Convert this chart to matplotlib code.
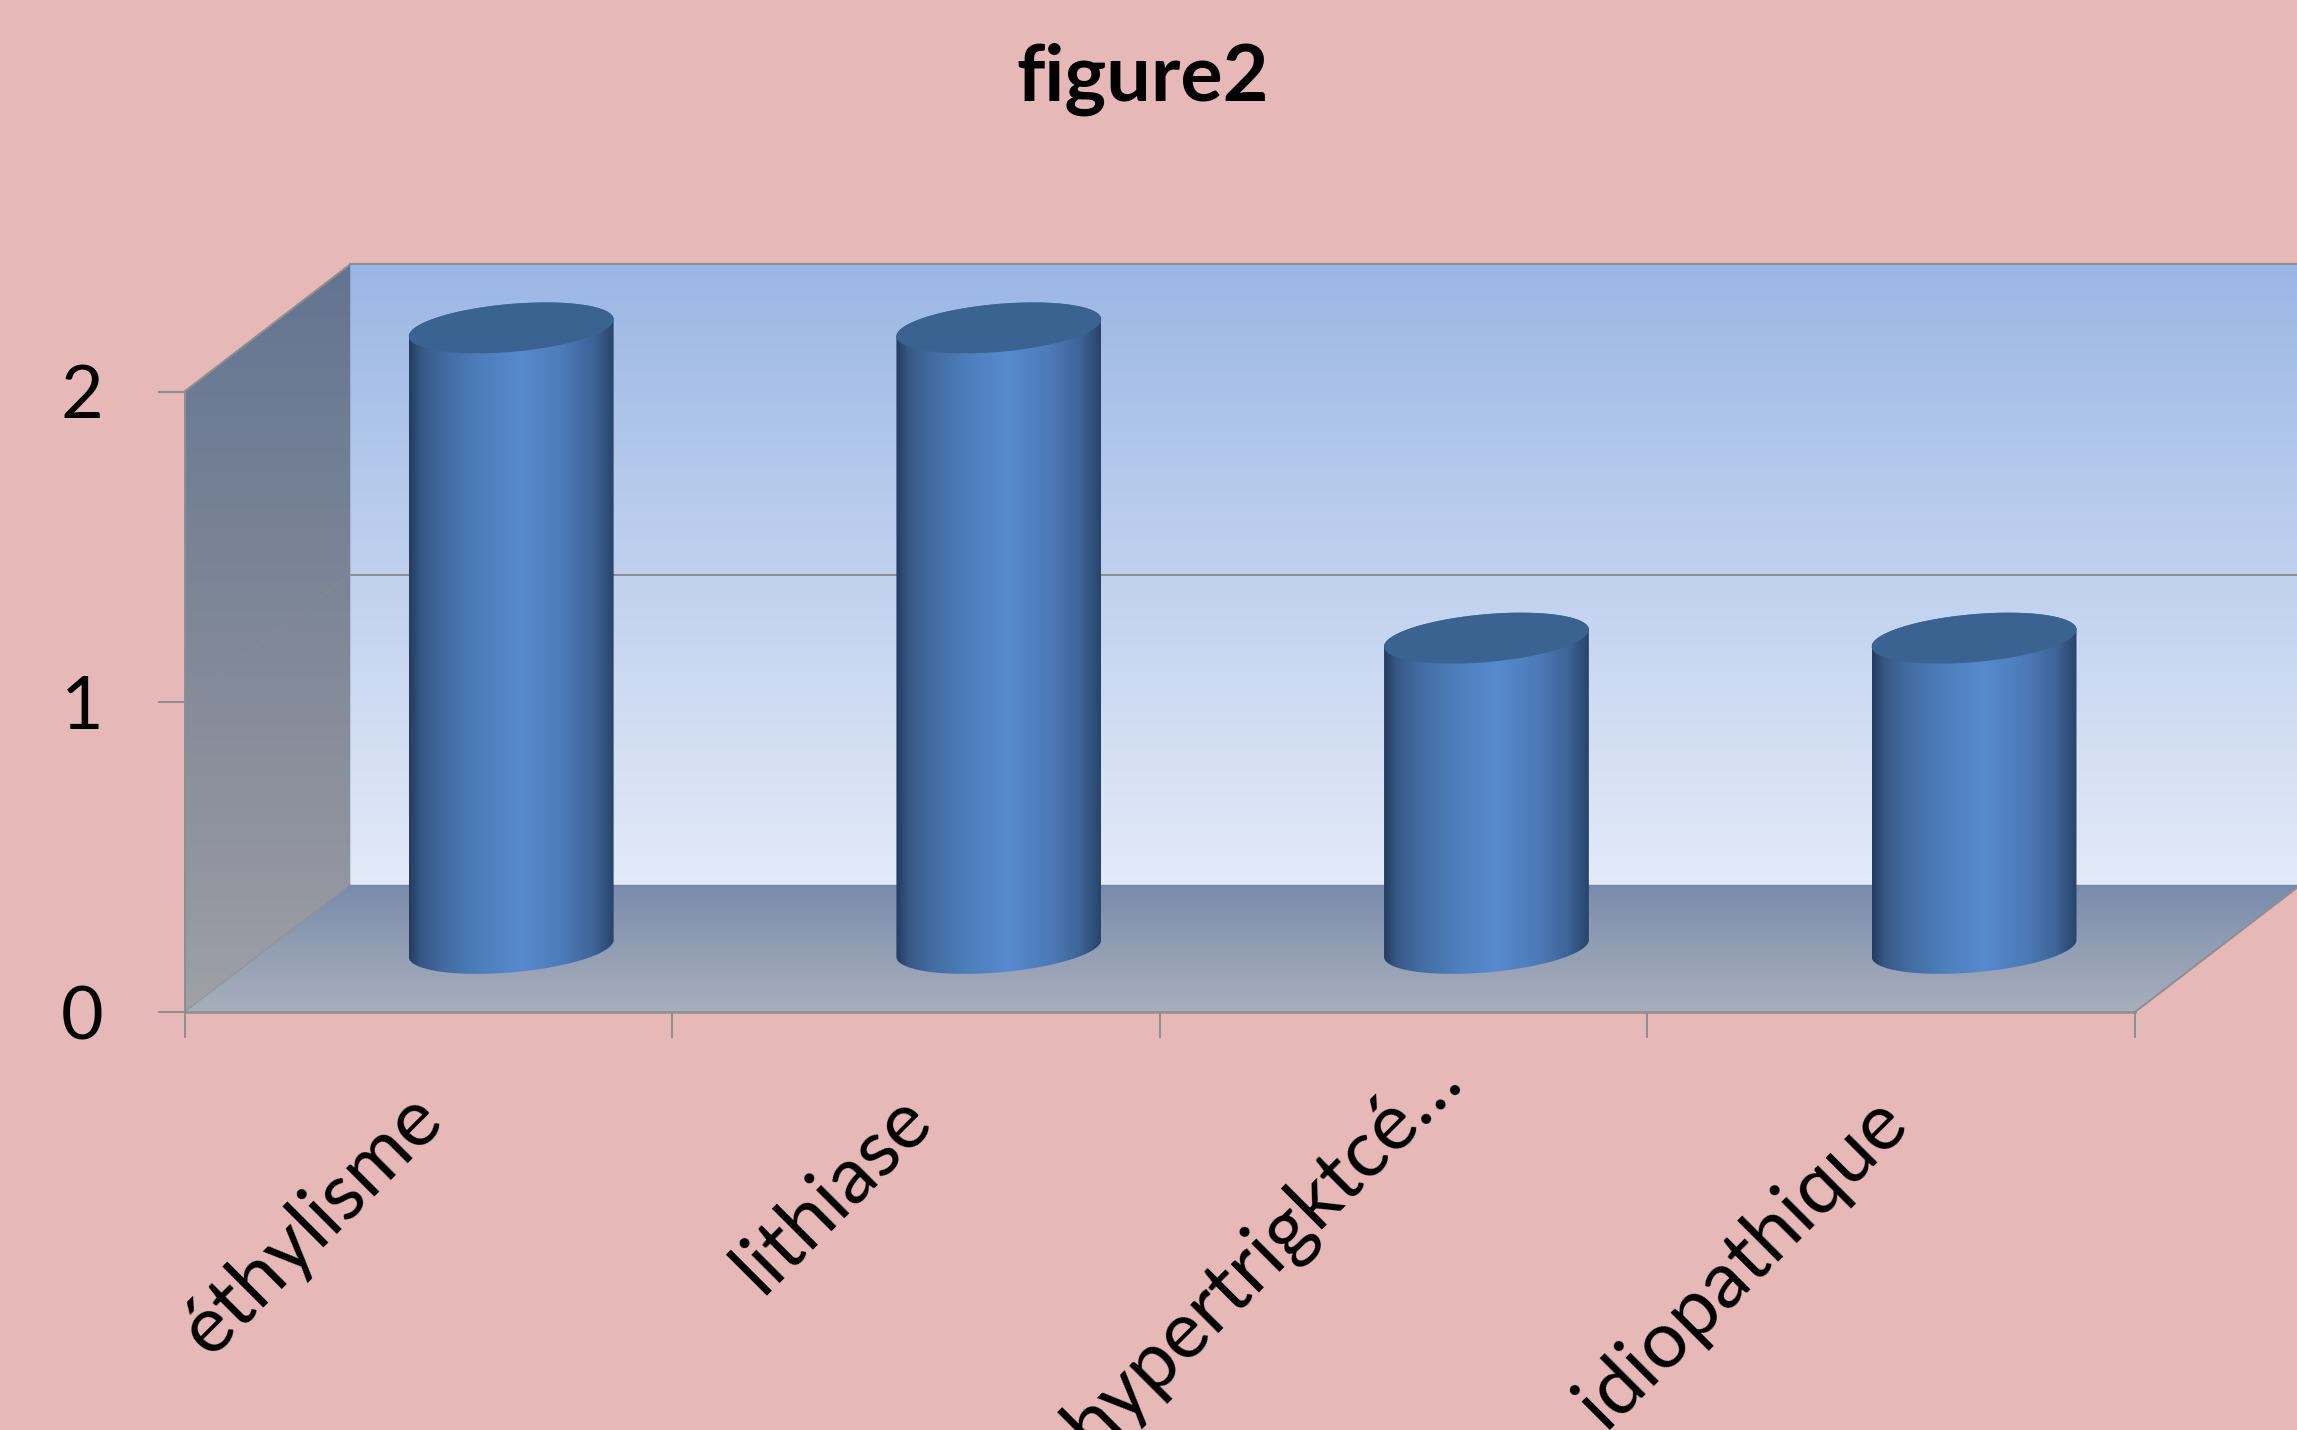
import numpy as np
import matplotlib
matplotlib.use("Agg")
import matplotlib.pyplot as plt
from matplotlib.patches import Polygon, PathPatch
from matplotlib.path import Path
from matplotlib.transforms import Affine2D

categories = ["éthylisme", "lithiase", "hypertrigktcé…", "idiopathique"]
values = [2, 2, 1, 1]
y_ticks = [0, 1, 2]
title = "figure2"

W, H = 2297, 1430
BG = "#E6B8B7"
EDGE = "#8E8E8E"
DX, DY = 0.34, 0.41          # projected depth of the 3-D box, in data units
RX, RY, SK = 0.21, 0.0774, 0.0274  # cylinder ellipse shape, in data units
LABEL_SHIFT = [(-23, -19), (-23, -19), (19, 21), (-22, -22)]  # pixels

plt.rcParams["font.family"] = ["Lato", "DejaVu Sans"]
fig = plt.figure(figsize=(W / 100, H / 100), dpi=100, facecolor=BG)
ax = fig.add_axes([184.5 / W, (H - 1012) / H, (2135 - 184.5) / W, 620.5 / H])
ax.patch.set_visible(False)


def gradient(stops, n=256):
    pos, cols = zip(*stops)
    t = np.linspace(0, 1, n)
    return np.stack([np.interp(t, pos, [c[k] / 255 for c in cols]) for k in range(3)], axis=-1)


def fill(verts, stops, horizontal=False, z=1):
    verts = np.asarray(verts)
    g = gradient(stops)
    img = g[None, :, :] if horizontal else g[:, None, :]
    ext = [verts[:, 0].min(), verts[:, 0].max(), verts[:, 1].min(), verts[:, 1].max()]
    im = ax.imshow(img, origin="lower", extent=ext, aspect="auto", interpolation="bilinear", zorder=z)
    clip = Polygon(verts, closed=True, transform=ax.transData)
    im.set_clip_path(clip)
    im.set_clip_box(fig.bbox)


n = len(categories)
top = max(y_ticks)

# back wall, floor, side wall
fill([(DX, DY), (n + DX, DY), (n + DX, top + DY), (DX, top + DY)],
     [(0, (227, 234, 248)), (0.5, (192, 209, 238)), (1, (155, 183, 229))], z=1)
fill([(0, 0), (DX, DY), (DX, top + DY), (0, top)],
     [(0, (158, 161, 168)), (0.2, (146, 149, 159)), (0.6, (122, 132, 150)), (1, (99, 116, 146))], z=1)
fill([(0, 0), (n, 0), (n + DX, DY), (DX, DY)],
     [(0, (168, 174, 187)), (0.5, (146, 158, 180)), (1, (120, 138, 172))], z=1)

# grid and box edges
for y in y_ticks[1:]:
    ax.plot([DX, n + DX], [y + DY, y + DY], color=EDGE, lw=1.4, zorder=2, clip_on=False)
    ax.plot([0, DX], [y, y + DY], color=EDGE, lw=1.2, alpha=0.35, zorder=2, clip_on=False)
ax.plot([0, DX], [top, top + DY], color=EDGE, lw=1.4, zorder=2, clip_on=False)
ax.plot([0, DX], [0, DY], color=EDGE, lw=1.0, alpha=0.7, zorder=2, clip_on=False)
ax.plot([n, n + DX], [0, DY], color=EDGE, lw=1.4, zorder=2, clip_on=False)
ax.plot([0, 0], [0, top], color=EDGE, lw=1.4, zorder=2, clip_on=False)
ax.plot([0, n], [0, 0], color=EDGE, lw=1.8, zorder=2, clip_on=False)

# cylinders
SHADE = [(0, (36, 60, 95)), (0.06, (54, 88, 132)), (0.16, (66, 106, 160)), (0.36, (78, 127, 189)),
         (0.55, (87, 138, 206)), (0.75, (77, 123, 184)), (0.90, (62, 100, 152)), (1, (40, 68, 106))]
for i, v in enumerate(values):
    cx, cy0, cy1 = i + 0.5 + DX / 2, DY / 2, v + DY / 2
    lower = np.linspace(np.pi, 2 * np.pi, 80)
    upper = np.linspace(0, np.pi, 80)
    body = np.vstack([
        np.c_[cx + RX * np.cos(lower), cy0 + RY * np.sin(lower) + SK * np.cos(lower)],
        np.c_[cx + RX * np.cos(upper), cy1 + RY * np.sin(upper) + SK * np.cos(upper)],
    ])
    fill(body, SHADE, horizontal=True, z=3)
    t = np.linspace(0, 2 * np.pi, 160)
    cap = np.c_[cx + RX * np.cos(t), cy1 + RY * np.sin(t) + SK * np.cos(t)]
    ax.add_patch(PathPatch(Path(cap), facecolor="#3B6391", edgecolor="none", zorder=4, clip_on=False))

ax.set_xlim(0, n)
ax.set_ylim(0, top)
for s in ax.spines.values():
    s.set_visible(False)

ax.set_yticks(y_ticks)
ax.set_yticklabels([str(y) for y in y_ticks])
ax.tick_params(axis="y", length=19.5, width=1.4, color=EDGE, labelsize=53, pad=39, labelcolor="black")
ax.set_xticks(np.arange(n + 1))
ax.set_xticklabels([])
ax.tick_params(axis="x", which="major", length=19, width=1.4, color=EDGE)
ax.set_xticks(np.arange(n) + 0.5, labels=categories, minor=True)
ax.tick_params(axis="x", which="minor", length=0, pad=36, labelsize=57, labelcolor="black")
for lab, (sx, sy) in zip(ax.get_xticklabels(minor=True), LABEL_SHIFT):
    lab.set_rotation(45)
    lab.set_ha("right")
    lab.set_va("top")
    lab.set_rotation_mode("anchor")
    lab.set_transform(lab.get_transform() + Affine2D().translate(sx, sy))

fig.text(1143 / W, 1 - 79 / H, title, ha="center", va="center", fontsize=57, fontweight="bold", color="black")
fig.savefig("out.png", dpi=100, facecolor=BG)
